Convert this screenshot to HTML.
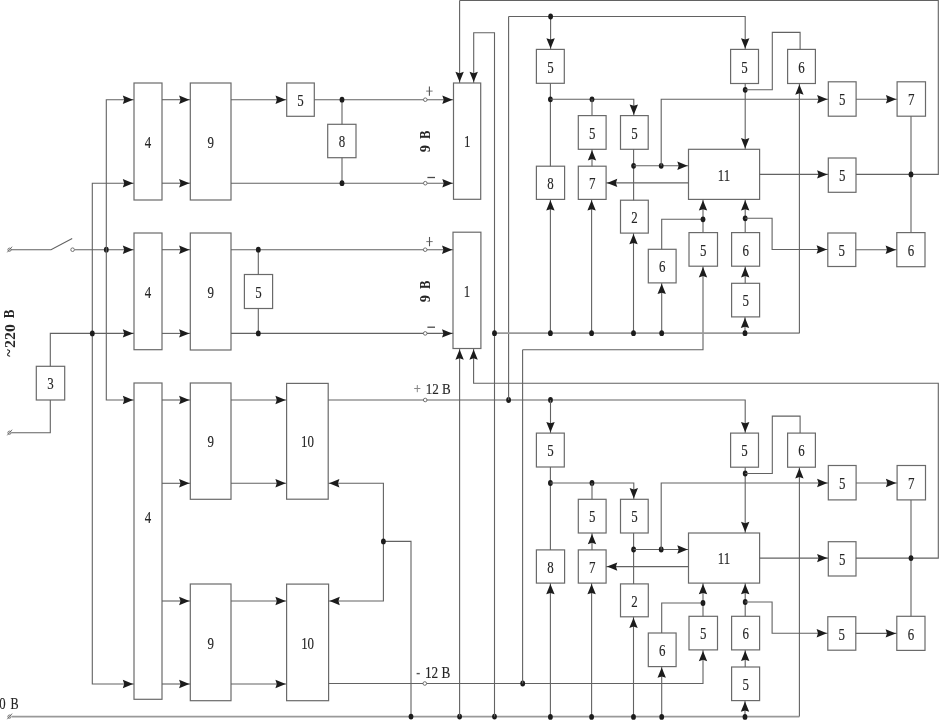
<!DOCTYPE html>
<html><head><meta charset="utf-8"><title>Block diagram</title>
<style>
html,body{margin:0;padding:0;background:#fff;}
body{width:939px;height:721px;overflow:hidden;}
svg{display:block;}
text{font-family:"Liberation Serif",serif;fill:#262626;stroke:#262626;stroke-width:0.15px;}
svg{will-change:transform;}
</style></head>
<body>
<svg width="939" height="721" viewBox="0 0 939 721">
<rect x="0" y="0" width="939" height="721" fill="#fff"/>
<rect x="536.4" y="49.4" width="27.9" height="33.9" fill="#fff" stroke="#6a6a6a" stroke-width="1.2"/>
<rect x="730.6" y="49.4" width="27.9" height="34.1" fill="#fff" stroke="#6a6a6a" stroke-width="1.2"/>
<rect x="787.6" y="49.4" width="27.8" height="34.1" fill="#fff" stroke="#6a6a6a" stroke-width="1.2"/>
<rect x="578.3" y="115.6" width="27.8" height="33.7" fill="#fff" stroke="#6a6a6a" stroke-width="1.2"/>
<rect x="620.5" y="115.6" width="27.7" height="33.7" fill="#fff" stroke="#6a6a6a" stroke-width="1.2"/>
<rect x="536.4" y="166.2" width="28.2" height="33.2" fill="#fff" stroke="#6a6a6a" stroke-width="1.2"/>
<rect x="578.3" y="166.2" width="27.8" height="33.2" fill="#fff" stroke="#6a6a6a" stroke-width="1.2"/>
<rect x="688.5" y="149.3" width="71.1" height="50.1" fill="#fff" stroke="#6a6a6a" stroke-width="1.2"/>
<rect x="620.5" y="200.2" width="27.8" height="32.9" fill="#fff" stroke="#6a6a6a" stroke-width="1.2"/>
<rect x="648.3" y="249.3" width="27.8" height="33.6" fill="#fff" stroke="#6a6a6a" stroke-width="1.2"/>
<rect x="689" y="232.6" width="28.5" height="33.6" fill="#fff" stroke="#6a6a6a" stroke-width="1.2"/>
<rect x="731.6" y="232.6" width="28" height="33.6" fill="#fff" stroke="#6a6a6a" stroke-width="1.2"/>
<rect x="731.6" y="283.3" width="28" height="33.6" fill="#fff" stroke="#6a6a6a" stroke-width="1.2"/>
<rect x="828.3" y="81.8" width="27.8" height="34.4" fill="#fff" stroke="#6a6a6a" stroke-width="1.2"/>
<rect x="828.3" y="158" width="27.7" height="34.3" fill="#fff" stroke="#6a6a6a" stroke-width="1.2"/>
<rect x="827.8" y="233" width="28" height="33.5" fill="#fff" stroke="#6a6a6a" stroke-width="1.2"/>
<rect x="897.1" y="81.8" width="28.4" height="34.4" fill="#fff" stroke="#6a6a6a" stroke-width="1.2"/>
<rect x="896.8" y="232.6" width="28.2" height="34.1" fill="#fff" stroke="#6a6a6a" stroke-width="1.2"/>
<rect x="536.4" y="433.1" width="27.9" height="33.9" fill="#fff" stroke="#6a6a6a" stroke-width="1.2"/>
<rect x="730.6" y="433.1" width="27.9" height="34.1" fill="#fff" stroke="#6a6a6a" stroke-width="1.2"/>
<rect x="787.6" y="433.1" width="27.8" height="34.1" fill="#fff" stroke="#6a6a6a" stroke-width="1.2"/>
<rect x="578.3" y="499.3" width="27.8" height="33.7" fill="#fff" stroke="#6a6a6a" stroke-width="1.2"/>
<rect x="620.5" y="499.3" width="27.7" height="33.7" fill="#fff" stroke="#6a6a6a" stroke-width="1.2"/>
<rect x="536.4" y="549.9" width="28.2" height="33.2" fill="#fff" stroke="#6a6a6a" stroke-width="1.2"/>
<rect x="578.3" y="549.9" width="27.8" height="33.2" fill="#fff" stroke="#6a6a6a" stroke-width="1.2"/>
<rect x="688.5" y="533" width="71.1" height="50.1" fill="#fff" stroke="#6a6a6a" stroke-width="1.2"/>
<rect x="620.5" y="583.9" width="27.8" height="32.9" fill="#fff" stroke="#6a6a6a" stroke-width="1.2"/>
<rect x="648.3" y="633" width="27.8" height="33.6" fill="#fff" stroke="#6a6a6a" stroke-width="1.2"/>
<rect x="689" y="616.3" width="28.5" height="33.6" fill="#fff" stroke="#6a6a6a" stroke-width="1.2"/>
<rect x="731.6" y="616.3" width="28" height="33.6" fill="#fff" stroke="#6a6a6a" stroke-width="1.2"/>
<rect x="731.6" y="667" width="28" height="33.6" fill="#fff" stroke="#6a6a6a" stroke-width="1.2"/>
<rect x="828.3" y="465.5" width="27.8" height="34.4" fill="#fff" stroke="#6a6a6a" stroke-width="1.2"/>
<rect x="828.3" y="541.7" width="27.7" height="34.3" fill="#fff" stroke="#6a6a6a" stroke-width="1.2"/>
<rect x="827.8" y="616.7" width="28" height="33.5" fill="#fff" stroke="#6a6a6a" stroke-width="1.2"/>
<rect x="897.1" y="465.5" width="28.4" height="34.4" fill="#fff" stroke="#6a6a6a" stroke-width="1.2"/>
<rect x="896.8" y="616.3" width="28.2" height="34.1" fill="#fff" stroke="#6a6a6a" stroke-width="1.2"/>
<rect x="134" y="83" width="28" height="117" fill="#fff" stroke="#6a6a6a" stroke-width="1.2"/>
<rect x="190.3" y="83" width="40.7" height="117" fill="#fff" stroke="#6a6a6a" stroke-width="1.2"/>
<rect x="286.7" y="83" width="27.6" height="33.3" fill="#fff" stroke="#6a6a6a" stroke-width="1.2"/>
<rect x="327.7" y="124.3" width="28.3" height="33.4" fill="#fff" stroke="#6a6a6a" stroke-width="1.2"/>
<rect x="453.5" y="83" width="27.2" height="116.3" fill="#fff" stroke="#6a6a6a" stroke-width="1.2"/>
<rect x="134" y="233" width="28" height="116.7" fill="#fff" stroke="#6a6a6a" stroke-width="1.2"/>
<rect x="190.3" y="233" width="40.7" height="117" fill="#fff" stroke="#6a6a6a" stroke-width="1.2"/>
<rect x="244.4" y="274.5" width="28.2" height="34" fill="#fff" stroke="#6a6a6a" stroke-width="1.2"/>
<rect x="453" y="232.2" width="27.9" height="116.3" fill="#fff" stroke="#6a6a6a" stroke-width="1.2"/>
<rect x="36.3" y="366.3" width="28.4" height="33.7" fill="#fff" stroke="#6a6a6a" stroke-width="1.2"/>
<rect x="134" y="383" width="28" height="316.3" fill="#fff" stroke="#6a6a6a" stroke-width="1.2"/>
<rect x="190.3" y="383" width="40.7" height="116.3" fill="#fff" stroke="#6a6a6a" stroke-width="1.2"/>
<rect x="286.6" y="383.4" width="41.6" height="115.8" fill="#fff" stroke="#6a6a6a" stroke-width="1.2"/>
<rect x="190.3" y="584" width="40.7" height="116.7" fill="#fff" stroke="#6a6a6a" stroke-width="1.2"/>
<rect x="286.6" y="584.1" width="42" height="116.6" fill="#fff" stroke="#6a6a6a" stroke-width="1.2"/>
<circle cx="9.5" cy="249.7" r="1.6" fill="none" stroke="#626262" stroke-width="0.9"/>
<path d="M7.3 252.3 L12.1 246.7" fill="none" stroke="#626262" stroke-width="0.9"/>
<path d="M11 249.7 L51 249.7 L72.2 238.4" fill="none" stroke="#626262" stroke-width="1.1"/>
<path d="M74.6 249.7 L134 249.7" fill="none" stroke="#626262" stroke-width="1.1"/>
<circle cx="72.6" cy="249.7" r="1.8" fill="#fff" stroke="#626262" stroke-width="0.9"/>
<ellipse cx="106.3" cy="249.7" rx="2.4" ry="2.9" fill="#1c1c1c"/>
<path d="M133.1 249.7 L122.8 245.5 L124.2 249.7 L122.8 253.9 Z" fill="#1c1c1c"/>
<path d="M134 99.7 L106.3 99.7 L106.3 400 L134 400" fill="none" stroke="#626262" stroke-width="1.1"/>
<path d="M133.1 99.7 L122.8 95.5 L124.2 99.7 L122.8 103.9 Z" fill="#1c1c1c"/>
<path d="M133.1 400 L122.8 395.8 L124.2 400 L122.8 404.2 Z" fill="#1c1c1c"/>
<path d="M134 183.2 L92.3 183.2 L92.3 684 L134 684" fill="none" stroke="#626262" stroke-width="1.1"/>
<path d="M133.1 183.2 L122.8 179 L124.2 183.2 L122.8 187.4 Z" fill="#1c1c1c"/>
<path d="M133.1 684 L122.8 679.8 L124.2 684 L122.8 688.2 Z" fill="#1c1c1c"/>
<path d="M50.3 366.3 L50.3 333.4 L134 333.4" fill="none" stroke="#626262" stroke-width="1.1"/>
<ellipse cx="92.3" cy="333.4" rx="2.4" ry="2.9" fill="#1c1c1c"/>
<path d="M133.1 333.4 L122.8 329.2 L124.2 333.4 L122.8 337.6 Z" fill="#1c1c1c"/>
<path d="M50.3 400 L50.3 432.7 L11.5 432.7" fill="none" stroke="#626262" stroke-width="1.1"/>
<circle cx="9.5" cy="432.7" r="1.6" fill="none" stroke="#626262" stroke-width="0.9"/>
<path d="M7.3 435.3 L12.1 429.7" fill="none" stroke="#626262" stroke-width="0.9"/>
<path d="M162 99.7 L190.3 99.7" fill="none" stroke="#626262" stroke-width="1.1"/>
<path d="M189.4 99.7 L179.1 95.5 L180.5 99.7 L179.1 103.9 Z" fill="#1c1c1c"/>
<path d="M162 183.2 L190.3 183.2" fill="none" stroke="#626262" stroke-width="1.1"/>
<path d="M189.4 183.2 L179.1 179 L180.5 183.2 L179.1 187.4 Z" fill="#1c1c1c"/>
<path d="M231 99.7 L286.7 99.7" fill="none" stroke="#626262" stroke-width="1.1"/>
<path d="M285.8 99.7 L275.5 95.5 L276.9 99.7 L275.5 103.9 Z" fill="#1c1c1c"/>
<path d="M314.3 99.7 L453.5 99.7" fill="none" stroke="#626262" stroke-width="1.1"/>
<path d="M452.6 99.7 L442.3 95.5 L443.7 99.7 L442.3 103.9 Z" fill="#1c1c1c"/>
<path d="M231 183.2 L453.5 183.2" fill="none" stroke="#626262" stroke-width="1.1"/>
<path d="M452.6 183.2 L442.3 179 L443.7 183.2 L442.3 187.4 Z" fill="#1c1c1c"/>
<path d="M342 99.7 L342 124.3" fill="none" stroke="#626262" stroke-width="1.1"/>
<path d="M342 157.7 L342 183.2" fill="none" stroke="#626262" stroke-width="1.1"/>
<ellipse cx="342" cy="99.7" rx="2.4" ry="2.9" fill="#1c1c1c"/>
<ellipse cx="342" cy="183.2" rx="2.4" ry="2.9" fill="#1c1c1c"/>
<circle cx="425.3" cy="99.7" r="1.8" fill="#fff" stroke="#626262" stroke-width="0.9"/>
<circle cx="425.3" cy="183.2" r="1.8" fill="#fff" stroke="#626262" stroke-width="0.9"/>
<path d="M162 249.7 L190.3 249.7" fill="none" stroke="#626262" stroke-width="1.1"/>
<path d="M189.4 249.7 L179.1 245.5 L180.5 249.7 L179.1 253.9 Z" fill="#1c1c1c"/>
<path d="M162 333.4 L190.3 333.4" fill="none" stroke="#626262" stroke-width="1.1"/>
<path d="M189.4 333.4 L179.1 329.2 L180.5 333.4 L179.1 337.6 Z" fill="#1c1c1c"/>
<path d="M231 249.7 L453.2 249.7" fill="none" stroke="#626262" stroke-width="1.1"/>
<path d="M452.3 249.7 L442 245.5 L443.4 249.7 L442 253.9 Z" fill="#1c1c1c"/>
<path d="M231 333.4 L453.2 333.4" fill="none" stroke="#626262" stroke-width="1.1"/>
<path d="M452.3 333.4 L442 329.2 L443.4 333.4 L442 337.6 Z" fill="#1c1c1c"/>
<path d="M258.3 249.7 L258.3 274.5" fill="none" stroke="#626262" stroke-width="1.1"/>
<path d="M258.3 308.5 L258.3 333.4" fill="none" stroke="#626262" stroke-width="1.1"/>
<ellipse cx="258.3" cy="249.7" rx="2.4" ry="2.9" fill="#1c1c1c"/>
<ellipse cx="258.3" cy="333.4" rx="2.4" ry="2.9" fill="#1c1c1c"/>
<circle cx="425.2" cy="249.7" r="1.8" fill="#fff" stroke="#626262" stroke-width="0.9"/>
<circle cx="425.2" cy="333.4" r="1.8" fill="#fff" stroke="#626262" stroke-width="0.9"/>
<path d="M162 400 L190.3 400" fill="none" stroke="#626262" stroke-width="1.1"/>
<path d="M189.4 400 L179.1 395.8 L180.5 400 L179.1 404.2 Z" fill="#1c1c1c"/>
<path d="M162 483.3 L190.3 483.3" fill="none" stroke="#626262" stroke-width="1.1"/>
<path d="M189.4 483.3 L179.1 479.1 L180.5 483.3 L179.1 487.5 Z" fill="#1c1c1c"/>
<path d="M162 601 L190.3 601" fill="none" stroke="#626262" stroke-width="1.1"/>
<path d="M189.4 601 L179.1 596.8 L180.5 601 L179.1 605.2 Z" fill="#1c1c1c"/>
<path d="M162 684 L190.3 684" fill="none" stroke="#626262" stroke-width="1.1"/>
<path d="M189.4 684 L179.1 679.8 L180.5 684 L179.1 688.2 Z" fill="#1c1c1c"/>
<path d="M231 400 L286.6 400" fill="none" stroke="#626262" stroke-width="1.1"/>
<path d="M285.7 400 L275.4 395.8 L276.8 400 L275.4 404.2 Z" fill="#1c1c1c"/>
<path d="M231 483.3 L286.6 483.3" fill="none" stroke="#626262" stroke-width="1.1"/>
<path d="M285.7 483.3 L275.4 479.1 L276.8 483.3 L275.4 487.5 Z" fill="#1c1c1c"/>
<path d="M231 601 L286.6 601" fill="none" stroke="#626262" stroke-width="1.1"/>
<path d="M285.7 601 L275.4 596.8 L276.8 601 L275.4 605.2 Z" fill="#1c1c1c"/>
<path d="M231 684 L286.6 684" fill="none" stroke="#626262" stroke-width="1.1"/>
<path d="M285.7 684 L275.4 679.8 L276.8 684 L275.4 688.2 Z" fill="#1c1c1c"/>
<path d="M328.2 483.2 L383.4 483.2 L383.4 601 L328.6 601" fill="none" stroke="#626262" stroke-width="1.1"/>
<path d="M329.1 483.2 L339.4 479 L338 483.2 L339.4 487.4 Z" fill="#1c1c1c"/>
<path d="M329.5 601 L339.8 596.8 L338.4 601 L339.8 605.2 Z" fill="#1c1c1c"/>
<path d="M383.4 541.4 L411 541.4 L411 716.6" fill="none" stroke="#626262" stroke-width="1.1"/>
<ellipse cx="383.4" cy="541.4" rx="2.4" ry="2.9" fill="#1c1c1c"/>
<path d="M328.2 400 L745.2 400 L745.2 433.1" fill="none" stroke="#626262" stroke-width="1.1"/>
<path d="M745.2 432.2 L741 421.9 L745.2 423.3 L749.4 421.9 Z" fill="#1c1c1c"/>
<circle cx="425.2" cy="400" r="1.8" fill="#fff" stroke="#626262" stroke-width="0.9"/>
<ellipse cx="508.6" cy="400" rx="2.4" ry="2.9" fill="#1c1c1c"/>
<ellipse cx="550.5" cy="400" rx="2.4" ry="2.9" fill="#1c1c1c"/>
<path d="M550.5 400 L550.5 433.1" fill="none" stroke="#626262" stroke-width="1.1"/>
<path d="M550.5 432.2 L546.3 421.9 L550.5 423.3 L554.7 421.9 Z" fill="#1c1c1c"/>
<path d="M328.6 683.5 L703 683.5 L703 650" fill="none" stroke="#626262" stroke-width="1.1"/>
<path d="M703 650.9 L698.8 661.2 L703 659.8 L707.2 661.2 Z" fill="#1c1c1c"/>
<circle cx="424.8" cy="683.5" r="1.8" fill="#fff" stroke="#626262" stroke-width="0.9"/>
<ellipse cx="522.7" cy="683.5" rx="2.4" ry="2.9" fill="#1c1c1c"/>
<circle cx="9.5" cy="716.6" r="1.6" fill="none" stroke="#626262" stroke-width="0.9"/>
<path d="M7.3 719.2 L12.1 713.6" fill="none" stroke="#626262" stroke-width="0.9"/>
<path d="M12 716.6 L799.4 716.6" fill="none" stroke="#999" stroke-width="1.8"/>
<path d="M799.4 716.6 L799.4 467.2" fill="none" stroke="#626262" stroke-width="1.1"/>
<path d="M799.4 468.1 L795.2 478.4 L799.4 477 L803.6 478.4 Z" fill="#1c1c1c"/>
<ellipse cx="411" cy="716.6" rx="2.4" ry="2.9" fill="#1c1c1c"/>
<ellipse cx="459.6" cy="716.6" rx="2.4" ry="2.9" fill="#1c1c1c"/>
<ellipse cx="494.5" cy="716.6" rx="2.4" ry="2.9" fill="#1c1c1c"/>
<path d="M459.6 0.5 L459.6 83" fill="none" stroke="#626262" stroke-width="1.1"/>
<path d="M459.6 82.1 L455.4 71.8 L459.6 73.2 L463.8 71.8 Z" fill="#1c1c1c"/>
<path d="M473.7 83 L473.7 32.7 L494.5 32.7 L494.5 716.6" fill="none" stroke="#626262" stroke-width="1.1"/>
<path d="M473.7 82.1 L469.5 71.8 L473.7 73.2 L477.9 71.8 Z" fill="#1c1c1c"/>
<path d="M459.6 348.5 L459.6 716.6" fill="none" stroke="#626262" stroke-width="1.1"/>
<path d="M459.6 349.4 L455.4 359.7 L459.6 358.3 L463.8 359.7 Z" fill="#1c1c1c"/>
<path d="M473.6 348.5 L473.6 383.3 L938.3 383.3 L938.3 558.1 L856 558.1" fill="none" stroke="#626262" stroke-width="1.1"/>
<path d="M473.6 349.4 L469.4 359.7 L473.6 358.3 L477.8 359.7 Z" fill="#1c1c1c"/>
<path d="M459.6 0.5 L938.3 0.5 L938.3 174.4 L856 174.4" fill="none" stroke="#626262" stroke-width="1.1"/>
<path d="M508.6 16.5 L508.6 400" fill="none" stroke="#626262" stroke-width="1.1"/>
<path d="M508.6 16.5 L745.2 16.5 L745.2 49.4" fill="none" stroke="#626262" stroke-width="1.1"/>
<path d="M745.2 48.5 L741 38.2 L745.2 39.6 L749.4 38.2 Z" fill="#1c1c1c"/>
<path d="M550.6 16.5 L550.6 49.4" fill="none" stroke="#626262" stroke-width="1.1"/>
<path d="M550.6 48.5 L546.4 38.2 L550.6 39.6 L554.8 38.2 Z" fill="#1c1c1c"/>
<ellipse cx="550.6" cy="16.5" rx="2.4" ry="2.9" fill="#1c1c1c"/>
<path d="M522.6 349.7 L703 349.7 L703 266.2" fill="none" stroke="#626262" stroke-width="1.1"/>
<path d="M703 267.1 L698.8 277.4 L703 276 L707.2 277.4 Z" fill="#1c1c1c"/>
<path d="M522.6 349.7 L522.6 683.5" fill="none" stroke="#626262" stroke-width="1.1"/>
<path d="M494.5 333.2 L799.4 333.2" fill="none" stroke="#999" stroke-width="1.8"/>
<path d="M799.4 333.2 L799.4 83.5" fill="none" stroke="#626262" stroke-width="1.1"/>
<path d="M799.4 84.4 L795.2 94.7 L799.4 93.3 L803.6 94.7 Z" fill="#1c1c1c"/>
<ellipse cx="494.5" cy="333.2" rx="2.4" ry="2.9" fill="#1c1c1c"/>
<path d="M550.4 83.3 L550.4 166.2" fill="none" stroke="#626262" stroke-width="1.1"/>
<ellipse cx="550.4" cy="99.3" rx="2.4" ry="2.9" fill="#1c1c1c"/>
<path d="M550.4 99.3 L633.8 99.3 L633.8 115.6" fill="none" stroke="#626262" stroke-width="1.1"/>
<path d="M633.8 114.7 L629.6 104.4 L633.8 105.8 L638 104.4 Z" fill="#1c1c1c"/>
<ellipse cx="592" cy="99.3" rx="2.4" ry="2.9" fill="#1c1c1c"/>
<path d="M592 99.3 L592 115.6" fill="none" stroke="#626262" stroke-width="1.1"/>
<path d="M592 166.2 L592 149.3" fill="none" stroke="#626262" stroke-width="1.1"/>
<path d="M592 150.2 L587.8 160.5 L592 159.1 L596.2 160.5 Z" fill="#1c1c1c"/>
<path d="M633.6 149.3 L633.6 200.2" fill="none" stroke="#626262" stroke-width="1.1"/>
<ellipse cx="633.6" cy="165.8" rx="2.4" ry="2.9" fill="#1c1c1c"/>
<path d="M633.6 165.8 L688.5 165.8" fill="none" stroke="#626262" stroke-width="1.1"/>
<path d="M687.6 165.8 L677.3 161.6 L678.7 165.8 L677.3 170 Z" fill="#1c1c1c"/>
<ellipse cx="661.2" cy="165.8" rx="2.4" ry="2.9" fill="#1c1c1c"/>
<path d="M661.2 165.8 L661.2 99.3 L828.3 99.3" fill="none" stroke="#626262" stroke-width="1.1"/>
<path d="M827.4 99.3 L817.1 95.1 L818.5 99.3 L817.1 103.5 Z" fill="#1c1c1c"/>
<path d="M688.5 182.9 L606.1 182.9" fill="none" stroke="#626262" stroke-width="1.1"/>
<path d="M607 182.9 L617.3 178.7 L615.9 182.9 L617.3 187.1 Z" fill="#1c1c1c"/>
<path d="M745.2 83.5 L745.2 149.3" fill="none" stroke="#626262" stroke-width="1.1"/>
<path d="M745.2 148.4 L741 138.1 L745.2 139.5 L749.4 138.1 Z" fill="#1c1c1c"/>
<ellipse cx="745.2" cy="89.8" rx="2.4" ry="2.9" fill="#1c1c1c"/>
<path d="M745.2 89.8 L772.3 89.8 L772.3 32.4 L800.1 32.4 L800.1 49.4" fill="none" stroke="#626262" stroke-width="1.1"/>
<path d="M759.6 174.4 L828.3 174.4" fill="none" stroke="#626262" stroke-width="1.1"/>
<path d="M827.4 174.4 L817.1 170.2 L818.5 174.4 L817.1 178.6 Z" fill="#1c1c1c"/>
<path d="M856.1 99.3 L897.1 99.3" fill="none" stroke="#626262" stroke-width="1.1"/>
<path d="M896.2 99.3 L885.9 95.1 L887.3 99.3 L885.9 103.5 Z" fill="#1c1c1c"/>
<path d="M911 116.2 L911 232.6" fill="none" stroke="#626262" stroke-width="1.1"/>
<ellipse cx="911" cy="174.4" rx="2.4" ry="2.9" fill="#1c1c1c"/>
<path d="M855.8 249.7 L896.8 249.7" fill="none" stroke="#626262" stroke-width="1.1"/>
<path d="M895.9 249.7 L885.6 245.5 L887 249.7 L885.6 253.9 Z" fill="#1c1c1c"/>
<path d="M633.5 333.2 L633.5 233.1" fill="none" stroke="#626262" stroke-width="1.1"/>
<path d="M633.5 234 L629.3 244.3 L633.5 242.9 L637.7 244.3 Z" fill="#1c1c1c"/>
<path d="M661.7 249.3 L661.7 219.3 L703 219.3" fill="none" stroke="#626262" stroke-width="1.1"/>
<path d="M661.7 333.2 L661.7 282.9" fill="none" stroke="#626262" stroke-width="1.1"/>
<path d="M661.7 283.8 L657.5 294.1 L661.7 292.7 L665.9 294.1 Z" fill="#1c1c1c"/>
<path d="M703 232.6 L703 199.4" fill="none" stroke="#626262" stroke-width="1.1"/>
<path d="M703 200.3 L698.8 210.6 L703 209.2 L707.2 210.6 Z" fill="#1c1c1c"/>
<ellipse cx="703" cy="219.3" rx="2.4" ry="2.9" fill="#1c1c1c"/>
<path d="M745.2 232.6 L745.2 199.4" fill="none" stroke="#626262" stroke-width="1.1"/>
<path d="M745.2 200.3 L741 210.6 L745.2 209.2 L749.4 210.6 Z" fill="#1c1c1c"/>
<ellipse cx="745.2" cy="218.3" rx="2.4" ry="2.9" fill="#1c1c1c"/>
<path d="M745.2 218.3 L772.1 218.3 L772.1 249.5 L827.8 249.5" fill="none" stroke="#626262" stroke-width="1.1"/>
<path d="M826.9 249.5 L816.6 245.3 L818 249.5 L816.6 253.7 Z" fill="#1c1c1c"/>
<path d="M745.2 283.3 L745.2 266.2" fill="none" stroke="#626262" stroke-width="1.1"/>
<path d="M745.2 267.1 L741 277.4 L745.2 276 L749.4 277.4 Z" fill="#1c1c1c"/>
<path d="M745 333.2 L745 316.9" fill="none" stroke="#626262" stroke-width="1.1"/>
<path d="M745 317.8 L740.8 328.1 L745 326.7 L749.2 328.1 Z" fill="#1c1c1c"/>
<path d="M550.4 333.2 L550.4 199.4" fill="none" stroke="#626262" stroke-width="1.1"/>
<path d="M550.4 200.3 L546.2 210.6 L550.4 209.2 L554.6 210.6 Z" fill="#1c1c1c"/>
<path d="M591.6 333.2 L591.6 199.4" fill="none" stroke="#626262" stroke-width="1.1"/>
<path d="M591.6 200.3 L587.4 210.6 L591.6 209.2 L595.8 210.6 Z" fill="#1c1c1c"/>
<ellipse cx="550.4" cy="333.2" rx="2.4" ry="2.9" fill="#1c1c1c"/>
<ellipse cx="591.6" cy="333.2" rx="2.4" ry="2.9" fill="#1c1c1c"/>
<ellipse cx="633.5" cy="333.2" rx="2.4" ry="2.9" fill="#1c1c1c"/>
<ellipse cx="661.7" cy="333.2" rx="2.4" ry="2.9" fill="#1c1c1c"/>
<ellipse cx="745" cy="333.2" rx="2.4" ry="2.9" fill="#1c1c1c"/>
<text transform="translate(550.35 72.53) scale(0.75 1)" font-size="17.2" font-weight="normal" text-anchor="middle">5</text>
<text transform="translate(744.55 72.63) scale(0.75 1)" font-size="17.2" font-weight="normal" text-anchor="middle">5</text>
<text transform="translate(801.5 72.63) scale(0.75 1)" font-size="17.2" font-weight="normal" text-anchor="middle">6</text>
<text transform="translate(592.2 138.63) scale(0.75 1)" font-size="17.2" font-weight="normal" text-anchor="middle">5</text>
<text transform="translate(634.35 138.63) scale(0.75 1)" font-size="17.2" font-weight="normal" text-anchor="middle">5</text>
<text transform="translate(550.5 188.98) scale(0.75 1)" font-size="17.2" font-weight="normal" text-anchor="middle">8</text>
<text transform="translate(592.2 188.98) scale(0.75 1)" font-size="17.2" font-weight="normal" text-anchor="middle">7</text>
<text transform="translate(724.05 180.53) scale(0.75 1)" font-size="17.2" font-weight="normal" text-anchor="middle">11</text>
<text transform="translate(634.4 222.83) scale(0.75 1)" font-size="17.2" font-weight="normal" text-anchor="middle">2</text>
<text transform="translate(662.2 272.28) scale(0.75 1)" font-size="17.2" font-weight="normal" text-anchor="middle">6</text>
<text transform="translate(703.25 255.58) scale(0.75 1)" font-size="17.2" font-weight="normal" text-anchor="middle">5</text>
<text transform="translate(745.6 255.58) scale(0.75 1)" font-size="17.2" font-weight="normal" text-anchor="middle">6</text>
<text transform="translate(745.6 306.28) scale(0.75 1)" font-size="17.2" font-weight="normal" text-anchor="middle">5</text>
<text transform="translate(842.2 105.18) scale(0.75 1)" font-size="17.2" font-weight="normal" text-anchor="middle">5</text>
<text transform="translate(842.15 181.33) scale(0.75 1)" font-size="17.2" font-weight="normal" text-anchor="middle">5</text>
<text transform="translate(841.8 255.93) scale(0.75 1)" font-size="17.2" font-weight="normal" text-anchor="middle">5</text>
<text transform="translate(911.3 105.18) scale(0.75 1)" font-size="17.2" font-weight="normal" text-anchor="middle">7</text>
<text transform="translate(910.9 255.83) scale(0.75 1)" font-size="17.2" font-weight="normal" text-anchor="middle">6</text>
<path d="M550.4 467 L550.4 549.9" fill="none" stroke="#626262" stroke-width="1.1"/>
<ellipse cx="550.4" cy="483" rx="2.4" ry="2.9" fill="#1c1c1c"/>
<path d="M550.4 483 L633.8 483 L633.8 499.3" fill="none" stroke="#626262" stroke-width="1.1"/>
<path d="M633.8 498.4 L629.6 488.1 L633.8 489.5 L638 488.1 Z" fill="#1c1c1c"/>
<ellipse cx="592" cy="483" rx="2.4" ry="2.9" fill="#1c1c1c"/>
<path d="M592 483 L592 499.3" fill="none" stroke="#626262" stroke-width="1.1"/>
<path d="M592 549.9 L592 533" fill="none" stroke="#626262" stroke-width="1.1"/>
<path d="M592 533.9 L587.8 544.2 L592 542.8 L596.2 544.2 Z" fill="#1c1c1c"/>
<path d="M633.6 533 L633.6 583.9" fill="none" stroke="#626262" stroke-width="1.1"/>
<ellipse cx="633.6" cy="549.5" rx="2.4" ry="2.9" fill="#1c1c1c"/>
<path d="M633.6 549.5 L688.5 549.5" fill="none" stroke="#626262" stroke-width="1.1"/>
<path d="M687.6 549.5 L677.3 545.3 L678.7 549.5 L677.3 553.7 Z" fill="#1c1c1c"/>
<ellipse cx="661.2" cy="549.5" rx="2.4" ry="2.9" fill="#1c1c1c"/>
<path d="M661.2 549.5 L661.2 483 L828.3 483" fill="none" stroke="#626262" stroke-width="1.1"/>
<path d="M827.4 483 L817.1 478.8 L818.5 483 L817.1 487.2 Z" fill="#1c1c1c"/>
<path d="M688.5 566.6 L606.1 566.6" fill="none" stroke="#626262" stroke-width="1.1"/>
<path d="M607 566.6 L617.3 562.4 L615.9 566.6 L617.3 570.8 Z" fill="#1c1c1c"/>
<path d="M745.2 467.2 L745.2 533" fill="none" stroke="#626262" stroke-width="1.1"/>
<path d="M745.2 532.1 L741 521.8 L745.2 523.2 L749.4 521.8 Z" fill="#1c1c1c"/>
<ellipse cx="745.2" cy="473.5" rx="2.4" ry="2.9" fill="#1c1c1c"/>
<path d="M745.2 473.5 L772.3 473.5 L772.3 416.1 L800.1 416.1 L800.1 433.1" fill="none" stroke="#626262" stroke-width="1.1"/>
<path d="M759.6 558.1 L828.3 558.1" fill="none" stroke="#626262" stroke-width="1.1"/>
<path d="M827.4 558.1 L817.1 553.9 L818.5 558.1 L817.1 562.3 Z" fill="#1c1c1c"/>
<path d="M856.1 483 L897.1 483" fill="none" stroke="#626262" stroke-width="1.1"/>
<path d="M896.2 483 L885.9 478.8 L887.3 483 L885.9 487.2 Z" fill="#1c1c1c"/>
<path d="M911 499.9 L911 616.3" fill="none" stroke="#626262" stroke-width="1.1"/>
<ellipse cx="911" cy="558.1" rx="2.4" ry="2.9" fill="#1c1c1c"/>
<path d="M855.8 633.4 L896.8 633.4" fill="none" stroke="#626262" stroke-width="1.1"/>
<path d="M895.9 633.4 L885.6 629.2 L887 633.4 L885.6 637.6 Z" fill="#1c1c1c"/>
<path d="M633.5 716.9 L633.5 616.8" fill="none" stroke="#626262" stroke-width="1.1"/>
<path d="M633.5 617.7 L629.3 628 L633.5 626.6 L637.7 628 Z" fill="#1c1c1c"/>
<path d="M661.7 633 L661.7 603 L703 603" fill="none" stroke="#626262" stroke-width="1.1"/>
<path d="M661.7 716.9 L661.7 666.6" fill="none" stroke="#626262" stroke-width="1.1"/>
<path d="M661.7 667.5 L657.5 677.8 L661.7 676.4 L665.9 677.8 Z" fill="#1c1c1c"/>
<path d="M703 616.3 L703 583.1" fill="none" stroke="#626262" stroke-width="1.1"/>
<path d="M703 584 L698.8 594.3 L703 592.9 L707.2 594.3 Z" fill="#1c1c1c"/>
<ellipse cx="703" cy="603" rx="2.4" ry="2.9" fill="#1c1c1c"/>
<path d="M745.2 616.3 L745.2 583.1" fill="none" stroke="#626262" stroke-width="1.1"/>
<path d="M745.2 584 L741 594.3 L745.2 592.9 L749.4 594.3 Z" fill="#1c1c1c"/>
<ellipse cx="745.2" cy="602" rx="2.4" ry="2.9" fill="#1c1c1c"/>
<path d="M745.2 602 L772.1 602 L772.1 633.2 L827.8 633.2" fill="none" stroke="#626262" stroke-width="1.1"/>
<path d="M826.9 633.2 L816.6 629 L818 633.2 L816.6 637.4 Z" fill="#1c1c1c"/>
<path d="M745.2 667 L745.2 649.9" fill="none" stroke="#626262" stroke-width="1.1"/>
<path d="M745.2 650.8 L741 661.1 L745.2 659.7 L749.4 661.1 Z" fill="#1c1c1c"/>
<path d="M745 716.9 L745 700.6" fill="none" stroke="#626262" stroke-width="1.1"/>
<path d="M745 701.5 L740.8 711.8 L745 710.4 L749.2 711.8 Z" fill="#1c1c1c"/>
<path d="M550.4 716.9 L550.4 583.1" fill="none" stroke="#626262" stroke-width="1.1"/>
<path d="M550.4 584 L546.2 594.3 L550.4 592.9 L554.6 594.3 Z" fill="#1c1c1c"/>
<path d="M591.6 716.9 L591.6 583.1" fill="none" stroke="#626262" stroke-width="1.1"/>
<path d="M591.6 584 L587.4 594.3 L591.6 592.9 L595.8 594.3 Z" fill="#1c1c1c"/>
<ellipse cx="550.4" cy="716.9" rx="2.4" ry="2.9" fill="#1c1c1c"/>
<ellipse cx="591.6" cy="716.9" rx="2.4" ry="2.9" fill="#1c1c1c"/>
<ellipse cx="633.5" cy="716.9" rx="2.4" ry="2.9" fill="#1c1c1c"/>
<ellipse cx="661.7" cy="716.9" rx="2.4" ry="2.9" fill="#1c1c1c"/>
<ellipse cx="745" cy="716.9" rx="2.4" ry="2.9" fill="#1c1c1c"/>
<text transform="translate(550.35 456.23) scale(0.75 1)" font-size="17.2" font-weight="normal" text-anchor="middle">5</text>
<text transform="translate(744.55 456.33) scale(0.75 1)" font-size="17.2" font-weight="normal" text-anchor="middle">5</text>
<text transform="translate(801.5 456.33) scale(0.75 1)" font-size="17.2" font-weight="normal" text-anchor="middle">6</text>
<text transform="translate(592.2 522.33) scale(0.75 1)" font-size="17.2" font-weight="normal" text-anchor="middle">5</text>
<text transform="translate(634.35 522.33) scale(0.75 1)" font-size="17.2" font-weight="normal" text-anchor="middle">5</text>
<text transform="translate(550.5 572.68) scale(0.75 1)" font-size="17.2" font-weight="normal" text-anchor="middle">8</text>
<text transform="translate(592.2 572.68) scale(0.75 1)" font-size="17.2" font-weight="normal" text-anchor="middle">7</text>
<text transform="translate(724.05 564.23) scale(0.75 1)" font-size="17.2" font-weight="normal" text-anchor="middle">11</text>
<text transform="translate(634.4 606.53) scale(0.75 1)" font-size="17.2" font-weight="normal" text-anchor="middle">2</text>
<text transform="translate(662.2 655.98) scale(0.75 1)" font-size="17.2" font-weight="normal" text-anchor="middle">6</text>
<text transform="translate(703.25 639.28) scale(0.75 1)" font-size="17.2" font-weight="normal" text-anchor="middle">5</text>
<text transform="translate(745.6 639.28) scale(0.75 1)" font-size="17.2" font-weight="normal" text-anchor="middle">6</text>
<text transform="translate(745.6 689.98) scale(0.75 1)" font-size="17.2" font-weight="normal" text-anchor="middle">5</text>
<text transform="translate(842.2 488.88) scale(0.75 1)" font-size="17.2" font-weight="normal" text-anchor="middle">5</text>
<text transform="translate(842.15 565.03) scale(0.75 1)" font-size="17.2" font-weight="normal" text-anchor="middle">5</text>
<text transform="translate(841.8 639.63) scale(0.75 1)" font-size="17.2" font-weight="normal" text-anchor="middle">5</text>
<text transform="translate(911.3 488.88) scale(0.75 1)" font-size="17.2" font-weight="normal" text-anchor="middle">7</text>
<text transform="translate(910.9 639.53) scale(0.75 1)" font-size="17.2" font-weight="normal" text-anchor="middle">6</text>
<text transform="translate(148 147.68) scale(0.75 1)" font-size="17.2" font-weight="normal" text-anchor="middle">4</text>
<text transform="translate(210.65 147.68) scale(0.75 1)" font-size="17.2" font-weight="normal" text-anchor="middle">9</text>
<text transform="translate(300.5 105.83) scale(0.75 1)" font-size="17.2" font-weight="normal" text-anchor="middle">5</text>
<text transform="translate(341.85 147.18) scale(0.75 1)" font-size="17.2" font-weight="normal" text-anchor="middle">8</text>
<text transform="translate(467.1 147.33) scale(0.75 1)" font-size="17.2" font-weight="normal" text-anchor="middle">1</text>
<text transform="translate(148 297.53) scale(0.75 1)" font-size="17.2" font-weight="normal" text-anchor="middle">4</text>
<text transform="translate(210.65 297.68) scale(0.75 1)" font-size="17.2" font-weight="normal" text-anchor="middle">9</text>
<text transform="translate(258.5 297.68) scale(0.75 1)" font-size="17.2" font-weight="normal" text-anchor="middle">5</text>
<text transform="translate(466.95 296.53) scale(0.75 1)" font-size="17.2" font-weight="normal" text-anchor="middle">1</text>
<text transform="translate(50.5 389.33) scale(0.75 1)" font-size="17.2" font-weight="normal" text-anchor="middle">3</text>
<text transform="translate(148 523.18) scale(0.75 1)" font-size="17.2" font-weight="normal" text-anchor="middle">4</text>
<text transform="translate(210.65 447.33) scale(0.75 1)" font-size="17.2" font-weight="normal" text-anchor="middle">9</text>
<text transform="translate(307.4 447.48) scale(0.75 1)" font-size="17.2" font-weight="normal" text-anchor="middle">10</text>
<text transform="translate(210.65 648.53) scale(0.75 1)" font-size="17.2" font-weight="normal" text-anchor="middle">9</text>
<text transform="translate(307.6 648.58) scale(0.75 1)" font-size="17.2" font-weight="normal" text-anchor="middle">10</text>
<path d="M426.2 91.1 L432.6 91.1" fill="none" stroke="#777" stroke-width="1.0"/>
<path d="M429.4 86.46 L429.4 95.74" fill="none" stroke="#555" stroke-width="1.1"/>
<path d="M427.4 177.5 L435 177.5" fill="none" stroke="#4a4a4a" stroke-width="1.3"/>
<path d="M426.3 241.6 L432.7 241.6" fill="none" stroke="#777" stroke-width="1.0"/>
<path d="M429.5 236.96 L429.5 246.24" fill="none" stroke="#555" stroke-width="1.1"/>
<path d="M427.4 327.2 L435 327.2" fill="none" stroke="#4a4a4a" stroke-width="1.3"/>
<text transform="translate(425 134.9) rotate(-90) scale(0.9 1)" font-size="14" font-weight="bold" text-anchor="middle" dominant-baseline="central" style="stroke-width:0px">В</text>
<text transform="translate(425 148.7) rotate(-90) scale(1.02 1)" font-size="14" font-weight="bold" text-anchor="middle" dominant-baseline="central" style="stroke-width:0px">9</text>
<text transform="translate(425 284.9) rotate(-90) scale(0.9 1)" font-size="14" font-weight="bold" text-anchor="middle" dominant-baseline="central" style="stroke-width:0px">В</text>
<text transform="translate(425 298.7) rotate(-90) scale(1.02 1)" font-size="14" font-weight="bold" text-anchor="middle" dominant-baseline="central" style="stroke-width:0px">9</text>
<text transform="translate(9.3 314) rotate(-90) scale(0.9 1)" font-size="14.5" font-weight="bold" text-anchor="middle" dominant-baseline="central" style="stroke-width:0px">В</text>
<text transform="translate(9.3 336.1) rotate(-90) scale(1.1 1)" font-size="14.5" font-weight="bold" text-anchor="middle" dominant-baseline="central" style="stroke-width:0px">220</text>
<text transform="translate(9.3 353.1) rotate(-90) scale(1 1)" font-size="14.5" font-weight="bold" text-anchor="middle" dominant-baseline="central" style="stroke-width:0px">~</text>
<path d="M414.2 388.5 L420.4 388.5" fill="none" stroke="#888" stroke-width="1.0"/>
<path d="M417.3 385 L417.3 392.2" fill="none" stroke="#888" stroke-width="1.0"/>
<path d="M416.6 673.6 L419.8 673.6" fill="none" stroke="#555" stroke-width="1.4"/>
<text transform="translate(425.7 394) scale(0.87 1)" font-size="15" font-weight="normal" text-anchor="start">12 В</text>
<text transform="translate(424.9 678) scale(0.82 1)" font-size="16.2" font-weight="normal" text-anchor="start">12 В</text>
<text transform="translate(-0.8 709) scale(0.75 1)" font-size="17" font-weight="normal" text-anchor="start">0</text>
<text transform="translate(10.6 709) scale(0.72 1)" font-size="17" font-weight="normal" text-anchor="start">В</text>
</svg>
</body></html>
